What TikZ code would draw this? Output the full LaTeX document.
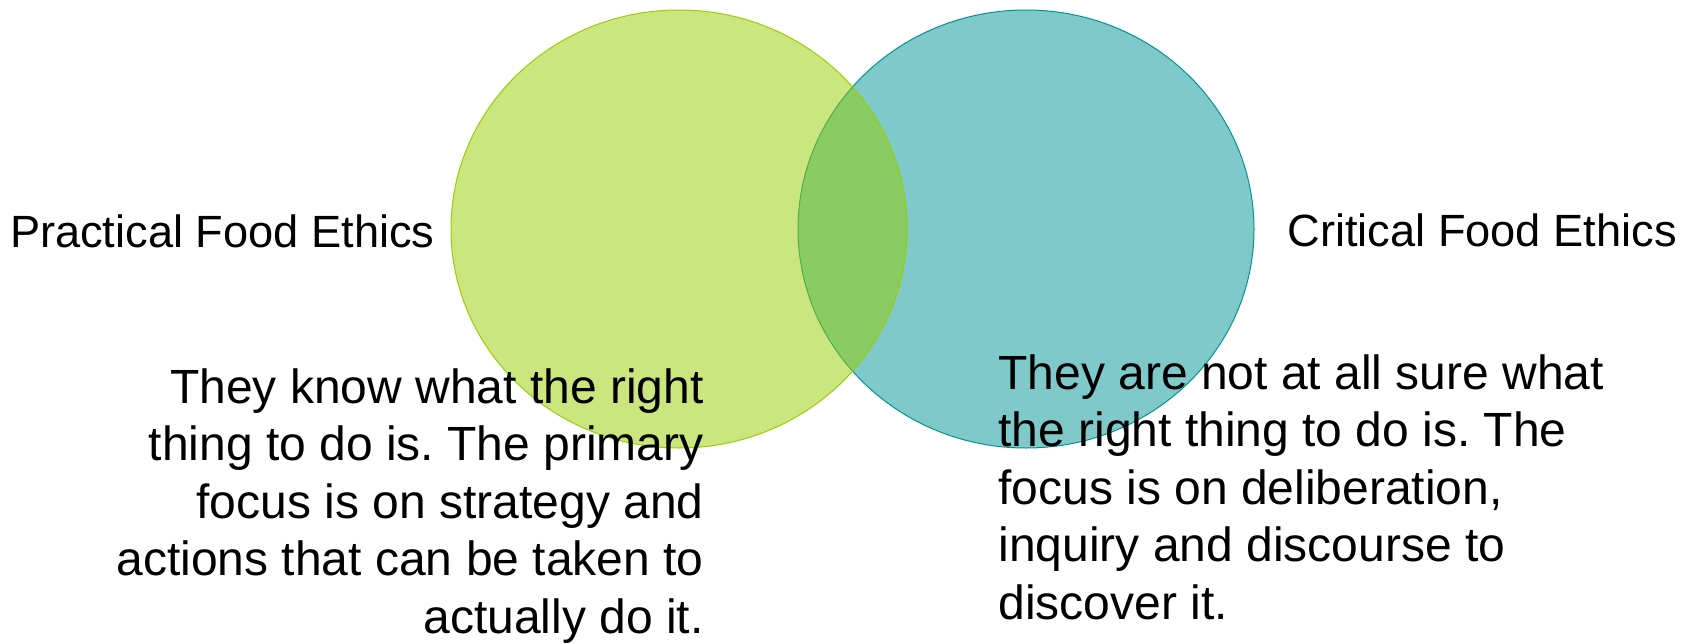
\documentclass[tikz,border=0pt]{standalone}
\usepackage{fontspec}
\setmainfont{Liberation Sans}
\usetikzlibrary{shapes.geometric, positioning}
\definecolor{leafgreen}{RGB}{152,206,0}
\definecolor{tealblue}{RGB}{0,147,149}
\frenchspacing

\begin{document}
\begin{tikzpicture}[
  x=0.5pt, y=-0.5pt,
  venn/.style={ellipse, draw, line width=0.5pt, fill opacity=0.5, minimum width=228pt, minimum height=219pt, inner sep=0pt},
  title/.style={inner sep=0pt, font=\fontsize{22.6}{27}\selectfont},
  desc/.style={inner sep=0pt, font=\fontsize{24}{28.75}\selectfont}
]
  \useasboundingbox (0,0) rectangle (1696,643);

  % circles, the green one lies on top
  \node[venn, draw=tealblue, fill=tealblue] (critical) at (1026,229) {};
  \node[venn, draw=leafgreen, fill=leafgreen] (practical) at (679,229) {};

  \node[title, anchor=base east] (practicallbl) at (435,247) {Practical Food Ethics};
  \node[title, anchor=base west] (criticallbl) at (1287,246) {Critical Food Ethics};

  % anchors sit on the last baseline
  \node[desc, align=right, anchor=base east] (practicaltxt) at (704,633)
    {They know what the right\\thing to do is. The primary\\focus is on strategy and\\actions that can be taken to\\actually do it.};
  \node[desc, align=left, anchor=base west] (criticaltxt) at (998,619)
    {They are not at all sure what\\the right thing to do is. The\\focus is on deliberation,\\inquiry and discourse to\\discover it.};
\end{tikzpicture}
\end{document}
